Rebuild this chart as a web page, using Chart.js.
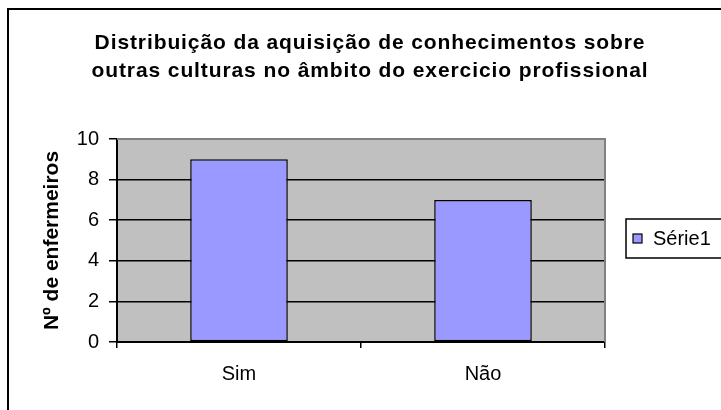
<!DOCTYPE html>
<html lang="pt">
<head>
    <meta charset="UTF-8">
    <title>Distribuição da aquisição de conhecimentos</title>
    <script src="https://cdn.jsdelivr.net/npm/chart.js"></script>
    <style>
        html, body { margin: 0; padding: 0; background: #fff; overflow: hidden; }
        canvas { display: block; }
    </style>
</head>
<body>
    <canvas id="chart" width="721" height="410"></canvas>

    <script>
        // dados do gráfico
        const categories = ['Sim', 'Não'];
        const seriesValues = [9, 7];
        const seriesName = 'Série1';
        const yTicks = [0, 2, 4, 6, 8, 10];
        const titleLines = [
            'Distribuição da aquisição de conhecimentos sobre',
            'outras culturas no âmbito do exercicio profissional'
        ];
        const yAxisTitle = 'Nº de enfermeiros';

        const FONT = '"Liberation Sans", Arial, sans-serif';
        Chart.defaults.font.family = FONT;
        Chart.defaults.color = '#000';

        // fundo cinza da área do gráfico + moldura
        const plotFrame = {
            id: 'plotFrame',
            beforeDraw(chart) {
                const { ctx, chartArea: a } = chart;
                ctx.save();
                ctx.fillStyle = '#fff';
                ctx.fillRect(0, 0, chart.width, chart.height);
                ctx.fillStyle = '#C0C0C0';
                ctx.fillRect(a.left, a.top, a.right - a.left, a.bottom - a.top);
                ctx.restore();
            },
            afterDatasetsDraw(chart) {
                const { ctx, chartArea: a } = chart;
                ctx.save();
                ctx.strokeStyle = '#808080';
                ctx.lineWidth = 2;
                ctx.beginPath();
                ctx.moveTo(a.left, a.top);
                ctx.lineTo(a.right, a.top);
                ctx.lineTo(a.right, a.bottom);
                ctx.stroke();
                ctx.restore();
            }
        };

        // título, legenda e borda externa
        const decorations = {
            id: 'decorations',
            afterDraw(chart) {
                const ctx = chart.ctx;
                ctx.save();
                // borda externa
                ctx.strokeStyle = '#000';
                ctx.lineWidth = 2;
                ctx.strokeRect(8, 9, 800, 500);

                // título
                ctx.fillStyle = '#000';
                ctx.font = 'bold 21px ' + FONT;
                ctx.textAlign = 'center';
                ctx.textBaseline = 'alphabetic';
                ctx.letterSpacing = '0.9px';
                titleLines.forEach((line, i) => {
                    ctx.fillText(line, 370, 49 + i * 28);
                });
                ctx.letterSpacing = '0px';

                // legenda
                const ds = chart.data.datasets[0];
                ctx.fillStyle = '#fff';
                ctx.fillRect(626, 219, 120, 39);
                ctx.lineWidth = 1.5;
                ctx.strokeRect(626, 219, 120, 39);
                ctx.fillStyle = ds.backgroundColor;
                ctx.fillRect(633, 234, 9, 9);
                ctx.lineWidth = 1.2;
                ctx.strokeRect(633, 234, 9, 9);
                ctx.fillStyle = '#000';
                ctx.font = '20px ' + FONT;
                ctx.textAlign = 'left';
                ctx.textBaseline = 'middle';
                ctx.fillText(ds.label, 653, 239);
                ctx.restore();
            }
        };

        new Chart(document.getElementById('chart'), {
            type: 'bar',
            data: {
                labels: categories,
                datasets: [{
                    label: seriesName,
                    data: seriesValues,
                    backgroundColor: '#9999FF',
                    borderColor: '#000',
                    borderWidth: 1.5,
                    borderSkipped: false,
                    categoryPercentage: 1,
                    barPercentage: 0.4
                }]
            },
            options: {
                responsive: false,
                animation: false,
                layout: { padding: { top: 139, right: 116, left: 0, bottom: 0 } },
                plugins: {
                    legend: { display: false },
                    title: { display: false },
                    tooltip: { enabled: false }
                },
                scales: {
                    x: {
                        offset: true,
                        grid: {
                            offset: true,
                            drawOnChartArea: false,
                            drawTicks: true,
                            tickLength: 6,
                            color: '#000',
                            lineWidth: 1.5
                        },
                        border: { display: true, color: '#000', width: 2 },
                        ticks: { font: { size: 20 }, color: '#000', padding: 14, maxRotation: 0 },
                        afterFit(scale) { scale.height = 68; }
                    },
                    y: {
                        min: yTicks[0],
                        max: yTicks[yTicks.length - 1],
                        afterBuildTicks(scale) { scale.ticks = yTicks.map(v => ({ value: v })); },
                        grid: {
                            color: '#000',
                            lineWidth: 1.5,
                            tickLength: 8
                        },
                        border: { display: true, color: '#000', width: 2 },
                        ticks: { font: { size: 20 }, color: '#000', padding: 10 },
                        title: {
                            display: true,
                            text: yAxisTitle,
                            font: { size: 21, weight: 'bold' },
                            color: '#000',
                            padding: { top: 40, bottom: 0 }
                        },
                        afterFit(scale) { scale.width = 117; }
                    }
                }
            },
            plugins: [plotFrame, decorations]
        });
    </script>
</body>
</html>
